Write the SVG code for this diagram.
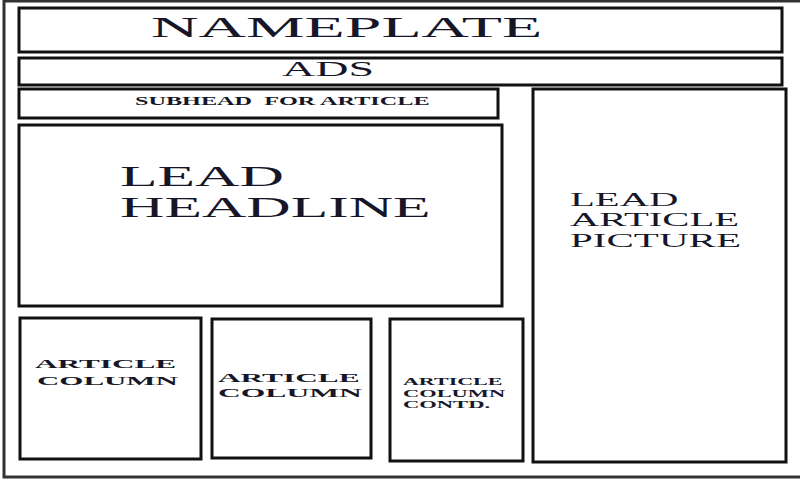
<svg xmlns="http://www.w3.org/2000/svg" width="800" height="480" viewBox="0 0 800 480">
<style>
.box{fill:#fff;stroke:#111;stroke-width:3}
.t{font-family:"Liberation Serif","Times New Roman",serif;fill:#161628}
.b{font-weight:bold}
</style>
<rect x="0" y="0" width="800" height="480" fill="#fff"/>
<rect x="4" y="1" width="802" height="476" fill="none" stroke="#333" stroke-width="3"/>
<g id="nameplate">
<rect class="box" x="19" y="8" width="763" height="44"/>
<text class="t" font-size="29" transform="translate(151,37) scale(2.27,1)">NAMEPLATE</text>
</g>
<g id="ads">
<rect class="box" x="19" y="58" width="763" height="27"/>
<text class="t" font-size="20" transform="translate(282,76) scale(2.3,1)">ADS</text>
</g>
<g id="subhead">
<rect class="box" x="19" y="89" width="479" height="29"/>
<text class="t b" font-size="12" transform="translate(135,105) scale(2.02,1)" style="white-space:pre">SUBHEAD  FOR ARTICLE</text>
</g>
<g id="lead-headline">
<rect class="box" x="19" y="125" width="483" height="181"/>
<text class="t" font-size="29" transform="translate(120,186) scale(2.12,1)">LEAD</text>
<text class="t" font-size="29" transform="translate(120,217) scale(2.12,1)">HEADLINE</text>
</g>
<g id="lead-article-picture">
<rect class="box" x="533" y="89" width="253" height="373"/>
<text class="t" font-size="19" transform="translate(570,206) scale(2.14,1)">LEAD</text>
<text class="t" font-size="19" transform="translate(570,226) scale(2.14,1)">ARTICLE</text>
<text class="t" font-size="19" transform="translate(570,247) scale(2.16,1)">PICTURE</text>
</g>
<g id="article-column-1">
<rect class="box" x="20" y="318" width="181" height="141"/>
<text class="t b" font-size="13" transform="translate(35,368) scale(2.4,1)">ARTICLE</text>
<text class="t b" font-size="13" transform="translate(37,385) scale(2.38,1)">COLUMN</text>
</g>
<g id="article-column-2">
<rect class="box" x="212" y="319" width="159" height="139"/>
<text class="t b" font-size="13" transform="translate(218,382) scale(2.41,1)">ARTICLE</text>
<text class="t b" font-size="13" transform="translate(218,397) scale(2.43,1)">COLUMN</text>
</g>
<g id="article-column-contd">
<rect class="box" x="390" y="319" width="133" height="142"/>
<text class="t b" font-size="11" transform="translate(403,385) scale(2.0,1)">ARTICLE</text>
<text class="t b" font-size="11" transform="translate(403,397) scale(2.04,1)">COLUMN</text>
<text class="t b" font-size="11" transform="translate(403,408) scale(2.05,1)">CONTD.</text>
</g>
<g id="connectors"></g>
</svg>
